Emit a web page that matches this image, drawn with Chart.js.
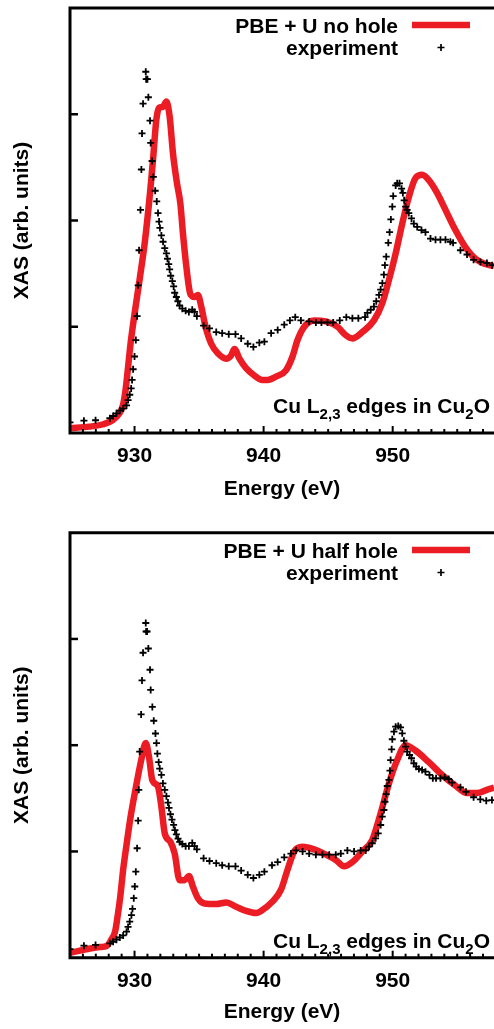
<!DOCTYPE html>
<html>
<head>
<meta charset="utf-8">
<script src="https://cdn.jsdelivr.net/npm/chart.js@4.4.0/dist/chart.umd.min.js"></script>
<style>
  html, body { margin: 0; padding: 0; background: #fff; overflow: hidden; }
  canvas { position: absolute; left: 0; }
  #topChart { top: 0; }
  #bottomChart { top: 515px; }
</style>
</head>
<body>
<canvas id="topChart" width="494" height="515"></canvas>
<canvas id="bottomChart" width="494" height="514"></canvas>
<script>
// PBE + U, no core hole (top panel)
const noHoleEnergy = [925.0, 926.5, 927.5, 928.3, 928.8, 929.1, 929.3, 929.5, 929.7, 930.0, 930.4, 930.8, 931.2,
  931.43, 931.69, 931.9, 932.2, 932.47, 932.72, 932.98, 933.29, 933.55, 933.75, 934.01, 934.32, 934.65, 934.91,
  935.17, 935.5, 935.94, 936.45, 937.1, 937.48, 937.74, 938.13, 938.64, 939.29, 939.9, 940.31, 940.96, 941.73,
  942.24, 942.63, 943.15, 943.92, 944.82, 945.72, 946.37, 946.88, 947.65, 948.55, 949.19, 949.71, 950.23, 950.74,
  951.25, 951.77, 952.28, 952.8, 953.44, 954.09, 954.86, 955.63, 956.41, 957.18, 957.85];
const noHoleXas = [0.045, 0.06, 0.08, 0.12, 0.18, 0.26, 0.40, 0.62, 0.85, 1.12, 1.45, 1.80, 2.26,
  2.57, 2.95, 3.06, 3.07, 3.12, 2.98, 2.63, 2.35, 2.16, 1.88, 1.57, 1.31, 1.28, 1.30,
  1.19, 1.00, 0.84, 0.75, 0.70, 0.73, 0.79, 0.70, 0.61, 0.54, 0.50, 0.50, 0.53, 0.59,
  0.72, 0.875, 1.0, 1.06, 1.05, 1.0, 0.92, 0.89, 0.95, 1.06, 1.22, 1.44, 1.69, 1.97,
  2.22, 2.40, 2.43, 2.38, 2.26, 2.10, 1.91, 1.75, 1.64, 1.59, 1.57];

// PBE + U, half core hole (bottom panel)
const halfHoleEnergy = [925.0, 927.3, 927.83, 928.2, 928.5, 928.7, 928.9, 929.12, 929.4, 929.7, 930.1, 930.5, 930.87,
  931.12, 931.38, 931.82, 932.08, 932.34, 932.78, 933.11, 933.49, 933.88, 934.21, 934.52, 934.91, 935.42, 936.33,
  937.1, 937.87, 938.64, 939.42, 939.8, 940.7, 941.35, 941.86, 942.37, 943.02, 943.92, 944.82, 945.59, 946.24,
  946.88, 947.65, 948.42, 949.07, 949.71, 950.35, 951.0, 951.77, 952.8, 953.83, 954.86, 955.76, 956.53, 957.3, 957.85];
const halfHoleXas = [0.047, 0.10, 0.11, 0.17, 0.25, 0.40, 0.58, 0.83, 1.08, 1.33, 1.60, 1.85, 2.02,
  1.89, 1.67, 1.61, 1.42, 1.17, 1.09, 0.98, 0.73, 0.73, 0.77, 0.67, 0.56, 0.51, 0.505,
  0.52, 0.48, 0.44, 0.42, 0.44, 0.53, 0.64, 0.83, 1.0, 1.045, 1.02, 0.97, 0.92, 0.86,
  0.90, 1.0, 1.11, 1.36, 1.64, 1.86, 2.0, 1.95, 1.84, 1.72, 1.62, 1.55, 1.55, 1.58, 1.60];

// experiment, top panel
const expTopEnergy = [925.0, 926.08, 926.98, 928.09, 928.34, 928.6, 928.86, 929.12, 929.38, 929.5, 929.63, 929.74,
  929.81, 929.89, 930.0, 930.1, 930.2, 930.28, 930.35, 930.46, 930.53, 930.58, 930.66, 930.87, 930.9, 931.0,
  931.07, 931.2, 931.25, 931.36, 931.46, 931.6, 931.72, 931.82, 931.9, 931.97, 932.08, 932.21, 932.34, 932.47,
  932.55, 932.65, 932.72, 932.8, 932.93, 933.03, 933.11, 933.24, 933.36, 933.49, 933.7, 933.96, 934.21, 934.47,
  934.65, 934.83, 935.35, 935.81, 936.33, 936.79, 937.3, 937.82, 938.26, 938.77, 939.21, 939.67, 940.06, 940.58,
  941.09, 941.6, 942.04, 942.45, 942.89, 943.53, 944.05, 944.48, 944.95, 945.39, 945.9, 946.41, 946.88, 947.34,
  947.86, 948.04, 948.3, 948.55, 948.73, 948.94, 949.07, 949.2, 949.32, 949.4, 949.5, 949.66, 949.76, 949.86,
  949.97, 950.04, 950.23, 950.35, 950.53, 950.69, 950.79, 950.89, 951.0, 951.12, 951.25, 951.46, 951.64, 951.9,
  952.23, 952.54, 952.93, 953.32, 953.7, 954.09, 954.47, 954.68, 955.25, 955.76, 956.27, 956.8, 957.3, 957.7];
const expTopXas = [0.10, 0.116, 0.12, 0.14, 0.16, 0.185, 0.21, 0.23, 0.26, 0.31, 0.36, 0.42,
  0.50, 0.60, 0.72, 0.875, 1.10, 1.39, 1.72, 2.10, 2.48, 2.82, 3.10, 3.40, 3.33, 3.33,
  3.16, 2.94, 2.73, 2.56, 2.41, 2.28, 2.18, 2.07, 1.99, 1.93, 1.86, 1.80, 1.74, 1.69,
  1.64, 1.59, 1.54, 1.48, 1.43, 1.38, 1.32, 1.28, 1.24, 1.20, 1.17, 1.15, 1.14, 1.16,
  1.14, 1.10, 1.01, 0.985, 0.95, 0.94, 0.93, 0.93, 0.89, 0.84, 0.81, 0.85, 0.86, 0.94,
  0.97, 1.02, 1.06, 1.09, 1.06, 1.05, 1.04, 1.04, 1.04, 1.04, 1.06, 1.09, 1.08, 1.08,
  1.09, 1.13, 1.16, 1.19, 1.24, 1.30, 1.35, 1.41, 1.49, 1.58, 1.66, 1.79, 1.89, 2.01,
  2.13, 2.23, 2.33, 2.35, 2.35, 2.30, 2.26, 2.19, 2.13, 2.10, 2.07, 2.02, 1.97, 1.94,
  1.91, 1.89, 1.83, 1.82, 1.82, 1.82, 1.80, 1.79, 1.72, 1.68, 1.63, 1.61, 1.60, 1.58];

// experiment, bottom panel
const expBottomEnergy = [925.0, 926.08, 926.98, 928.09, 928.34, 928.6, 928.86, 929.12, 929.38, 929.5, 929.63, 929.76,
  929.84, 929.94, 930.02, 930.1, 930.2, 930.28, 930.33, 930.4, 930.51, 930.58, 930.66, 930.87, 930.9, 930.97,
  931.07, 931.2, 931.25, 931.38, 931.49, 931.62, 931.7, 931.77, 931.87, 931.95, 932.08, 932.2, 932.34, 932.47,
  932.59, 932.67, 932.78, 932.9, 933.03, 933.13, 933.24, 933.37, 933.5, 933.7, 933.96, 934.21, 934.47, 934.65,
  934.83, 935.35, 935.81, 936.33, 936.79, 937.3, 937.82, 938.26, 938.77, 939.21, 939.67, 940.06, 940.65, 941.09,
  941.6, 942.12, 942.5, 943.02, 943.53, 944.05, 944.56, 945.08, 945.59, 945.98, 946.49, 947.01, 947.52, 947.91,
  948.17, 948.42, 948.68, 948.88, 949.07, 949.19, 949.32, 949.4, 949.5, 949.58, 949.71, 949.79, 949.84, 949.92,
  949.97, 950.1, 950.23, 950.43, 950.61, 950.74, 950.87, 951.0, 951.12, 951.31, 951.46, 951.64, 951.82, 952.03,
  952.28, 952.54, 952.85, 953.11, 953.36, 953.7, 954.03, 954.34, 954.6, 955.25, 955.68, 956.27, 956.79, 957.25, 957.69];
const expBottomXas = [0.08, 0.113, 0.12, 0.135, 0.15, 0.17, 0.19, 0.21, 0.245, 0.29, 0.34, 0.40,
  0.46, 0.56, 0.67, 0.81, 1.03, 1.29, 1.58, 1.94, 2.29, 2.61, 2.87, 3.15, 3.07, 3.07,
  2.91, 2.71, 2.52, 2.36, 2.23, 2.11, 2.02, 1.92, 1.84, 1.78, 1.72, 1.64, 1.58, 1.52,
  1.46, 1.41, 1.35, 1.30, 1.25, 1.20, 1.16, 1.12, 1.09, 1.07, 1.05, 1.05, 1.08, 1.05,
  1.02, 0.935, 0.91, 0.89, 0.87, 0.86, 0.86, 0.82, 0.78, 0.75, 0.78, 0.81, 0.87, 0.90,
  0.945, 0.98, 1.01, 1.0, 0.98, 0.97, 0.97, 0.97, 0.97, 0.98, 1.01, 1.0, 1.01, 1.01,
  1.045, 1.077, 1.124, 1.171, 1.249, 1.327, 1.39, 1.468, 1.54, 1.616, 1.673, 1.76, 1.86, 1.961,
  2.056, 2.127, 2.174, 2.18, 2.168, 2.112, 2.042, 1.986, 1.939, 1.908, 1.877, 1.83, 1.798, 1.776,
  1.767, 1.751, 1.72, 1.688, 1.688, 1.688, 1.698, 1.682, 1.647, 1.604, 1.562, 1.51, 1.49, 1.478, 1.484];

const RED = '#ec1c24';
const FONT = "'Liberation Sans', Arial, Helvetica, sans-serif";

function toPoints(xs, ys) {
  return xs.map((x, i) => ({ x: x, y: ys[i] }));
}

// frame, inward ticks, legend and the "Cu L2,3" note
const panelPlugin = {
  id: 'panel',
  afterDraw(chart, args, o) {
    const ctx = chart.ctx;
    const { left, right, top, bottom } = chart.chartArea;
    const xs = chart.scales.x, ys = chart.scales.y;
    ctx.save();
    ctx.strokeStyle = '#000';

    // minor/major x ticks pointing in
    ctx.lineWidth = 2;
    for (let e = 926; e <= 957; e++) {
      const px = xs.getPixelForValue(e);
      const len = e % 10 === 0 ? 7 : 4;
      ctx.beginPath();
      ctx.moveTo(px, bottom);
      ctx.lineTo(px, bottom - len);
      ctx.stroke();
    }
    // y ticks
    ctx.lineWidth = 2.5;
    for (let v = 1; v <= 3; v++) {
      const py = ys.getPixelForValue(v);
      ctx.beginPath();
      ctx.moveTo(left, py);
      ctx.lineTo(left + 8, py);
      ctx.stroke();
    }

    // frame (right side is cut off in the figure)
    ctx.lineWidth = 3;
    ctx.lineCap = 'square';
    ctx.beginPath();
    ctx.moveTo(right + 2, top);
    ctx.lineTo(left, top);
    ctx.lineTo(left, bottom);
    ctx.lineTo(right + 2, bottom);
    ctx.stroke();

    // legend
    ctx.fillStyle = '#000';
    ctx.font = 'bold 21px ' + FONT;
    ctx.textAlign = 'right';
    ctx.textBaseline = 'alphabetic';
    ctx.fillText(o.theoryLabel, 398, o.legendY + 8);
    ctx.fillText('experiment', 398, o.legendY + 30);
    ctx.strokeStyle = RED;
    ctx.lineWidth = 6.5;
    ctx.lineCap = 'butt';
    ctx.beginPath();
    ctx.moveTo(412, o.legendY);
    ctx.lineTo(470, o.legendY);
    ctx.stroke();
    ctx.strokeStyle = '#000';
    ctx.lineWidth = 1.7;
    const cy = o.legendY + 22.5;
    ctx.beginPath();
    ctx.moveTo(437.5, cy); ctx.lineTo(444.5, cy);
    ctx.moveTo(441, cy - 3.5); ctx.lineTo(441, cy + 3.5);
    ctx.stroke();

    // note with subscripts, right aligned at x = 490
    const big = 'bold 21px ' + FONT, small = 'bold 15px ' + FONT;
    const parts = [['Cu L', big, 0], ['2,3', small, 6], [' edges in Cu', big, 0], ['2', small, 6], ['O', big, 0]];
    ctx.textAlign = 'left';
    let w = 0;
    parts.forEach(p => { ctx.font = p[1]; w += ctx.measureText(p[0]).width; });
    let x = 490 - w;
    parts.forEach(p => {
      ctx.font = p[1];
      ctx.fillText(p[0], x, o.noteY + p[2]);
      x += ctx.measureText(p[0]).width;
    });
    ctx.restore();
  }
};

function makeChart(id, theoryE, theoryV, expE, expV, cfg) {
  return new Chart(document.getElementById(id).getContext('2d'), {
    type: 'scatter',
    data: {
      datasets: [
        {
          label: cfg.theoryLabel,
          data: toPoints(theoryE, theoryV),
          showLine: true,
          borderColor: RED,
          borderWidth: 6.5,
          pointRadius: 0,
          cubicInterpolationMode: 'monotone',
          order: 2
        },
        {
          label: 'experiment',
          data: toPoints(expE, expV),
          pointStyle: 'cross',
          pointRadius: 3.5,
          borderColor: '#000',
          backgroundColor: '#000',
          pointBorderWidth: 1.8,
          order: 1
        }
      ]
    },
    options: {
      responsive: false,
      animation: false,
      events: [],
      // no auto padding: the plot runs right up to the canvas edge
      layout: { autoPadding: false, padding: { top: cfg.padTop, right: 0, left: 0, bottom: 0 } },
      plugins: {
        legend: { display: false },
        tooltip: { enabled: false },
        panel: { theoryLabel: cfg.theoryLabel, legendY: cfg.legendY, noteY: cfg.noteY }
      },
      scales: {
        x: {
          type: 'linear',
          min: 925,
          max: 957.85,
          afterFit: s => {
            s.height = cfg.xAxisHeight;
            s.paddingLeft = 0;
            s.paddingRight = 0;
          },
          grid: { display: false, drawTicks: false },
          border: { display: false },
          ticks: {
            stepSize: 1,
            autoSkip: false,
            maxRotation: 0,
            padding: 11,
            color: '#000',
            font: { family: FONT, size: 21, weight: 'bold' },
            callback: v => (v % 10 === 0 ? String(v) : '')
          },
          title: {
            display: true,
            text: 'Energy (eV)',
            color: '#000',
            font: { family: FONT, size: 21, weight: 'bold' },
            padding: { top: 0, bottom: cfg.titlePad }
          }
        },
        y: {
          min: 0,
          max: 4,
          afterFit: s => {
            s.width = 70;
            s.paddingTop = 0;
            s.paddingBottom = 0;
          },
          grid: { display: false, drawTicks: false },
          border: { display: false },
          ticks: { display: false, stepSize: 1 },
          title: {
            display: true,
            text: 'XAS (arb. units)',
            color: '#000',
            font: { family: FONT, size: 21, weight: 'bold' },
            padding: { top: 10, bottom: 0 }
          }
        }
      }
    },
    plugins: [panelPlugin]
  });
}

makeChart('topChart', noHoleEnergy, noHoleXas, expTopEnergy, expTopXas, {
  theoryLabel: 'PBE + U no hole', padTop: 8, xAxisHeight: 82, titlePad: 13.4,
  legendY: 25, noteY: 412.7
});
makeChart('bottomChart', halfHoleEnergy, halfHoleXas, expBottomEnergy, expBottomXas, {
  theoryLabel: 'PBE + U half hole', padTop: 17.7, xAxisHeight: 71.3, titlePad: 4.4,
  legendY: 35, noteY: 432.7
});
</script>
</body>
</html>
